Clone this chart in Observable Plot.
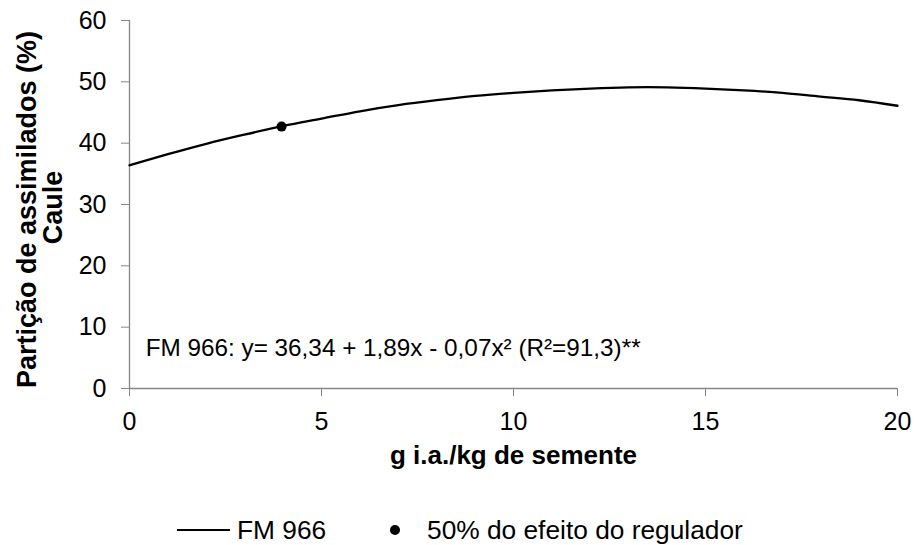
<!DOCTYPE html>
<html>
<head>
<meta charset="utf-8">
<script src="https://cdn.jsdelivr.net/npm/d3@7"></script>
<script src="https://cdn.jsdelivr.net/npm/@observablehq/plot@0.6"></script>
<style>
  body { margin: 0; background: #fff; font-family: "Liberation Sans", Arial, sans-serif; }
  #chart { position: relative; width: 915px; height: 545px; }
  #legend { position: absolute; left: 0; top: 515px; width: 915px; height: 30px; font-size: 26.3px; color: #000; }
  #legend .item { position: absolute; top: 0; display: flex; align-items: center; height: 30px; white-space: nowrap; }
</style>
</head>
<body>
<div id="chart"></div>
<script>
// x: g i.a./kg de semente ; y: Partição de assimilados (%) Caule — FM 966 (fitted curve)
const doses = [0,1,2,3,4,5,6,7,8,9,10,11,12,13,14,15,16,17,18,19,20];
const fm966 = [36.4,38.2,39.9,41.4,42.8,44.0,45.2,46.2,47.0,47.7,48.2,48.6,48.9,49.1,49.1,48.9,48.6,48.2,47.6,47.0,46.1];
const pointX = [3.96];
const pointY = [42.7];
const xTicks = [0,5,10,15,20];
const yTicks = [0,10,20,30,40,50,60];
const equation = ["FM 966: y= 36,34 + 1,89x - 0,07x² (R²=91,3)**"];
const xLabel = "g i.a./kg de semente";
const yLabel = ["Partição de assimilados (%)", "Caule"];
const legendLabels = ["FM 966", "50% do efeito do regulador"];

const lineData = doses.map((d, i) => ({x: d, y: fm966[i]}));
const pointData = pointX.map((d, i) => ({x: d, y: pointY[i]}));
const axisGray = "#868686";

const chart = Plot.plot({
  width: 915,
  height: 490,
  marginLeft: 129,
  marginRight: 18,
  marginTop: 20,
  marginBottom: 102,
  style: {fontFamily: "'Liberation Sans', Arial, sans-serif", background: "#fff", color: "#000", overflow: "visible"},
  x: {domain: [0, 20]},
  y: {domain: [0, 60]},
  marks: [
    Plot.axisX({ticks: xTicks, tickSize: 8, tickPadding: 16, stroke: axisGray, fill: "#000", fontSize: 25, tickFormat: d => String(d), label: null}),
    Plot.axisY({ticks: yTicks, tickSize: 8, tickPadding: 15, stroke: axisGray, fill: "#000", fontSize: 25, tickFormat: d => String(d), label: null}),
    Plot.ruleY([0], {stroke: axisGray, strokeWidth: 1.3}),
    Plot.ruleX([0], {stroke: axisGray, strokeWidth: 1.3}),
    Plot.line(lineData, {x: "x", y: "y", stroke: "#000", strokeWidth: 2.3, curve: "natural"}),
    Plot.dot(pointData, {x: "x", y: "y", r: 5, fill: "#000", stroke: "none"}),
    Plot.text(equation, {x: 0.42, y: 6.6, text: d => d, textAnchor: "start", lineAnchor: "middle", fontSize: 24.3, fill: "#000"}),
    Plot.text([xLabel], {frameAnchor: "bottom", text: d => d, textAnchor: "middle", lineAnchor: "middle", dy: 67, fontSize: 26, fontWeight: "bold", fill: "#000"}),
    Plot.text([yLabel[0]], {frameAnchor: "left", text: d => d, textAnchor: "middle", lineAnchor: "middle", rotate: -90, dx: -102, dy: 5, fontSize: 27, fontWeight: "bold", fill: "#000"}),
    Plot.text([yLabel[1]], {frameAnchor: "left", text: d => d, textAnchor: "middle", lineAnchor: "middle", rotate: -90, dx: -76, dy: 3, fontSize: 27, fontWeight: "bold", fill: "#000"})
  ]
});
document.getElementById("chart").appendChild(chart);

const legend = document.createElement("div");
legend.id = "legend";
legend.innerHTML = `
  <div class="item" style="left:177px"><svg width="54" height="30"><line x1="0" y1="15" x2="53" y2="15" stroke="#000" stroke-width="2"/></svg><span style="margin-left:6px">${legendLabels[0]}</span></div>
  <div class="item" style="left:389px"><svg width="12" height="30"><circle cx="6" cy="15" r="5" fill="#000"/></svg><span style="margin-left:26px">${legendLabels[1]}</span></div>`;
document.getElementById("chart").appendChild(legend);
</script>
</body>
</html>
